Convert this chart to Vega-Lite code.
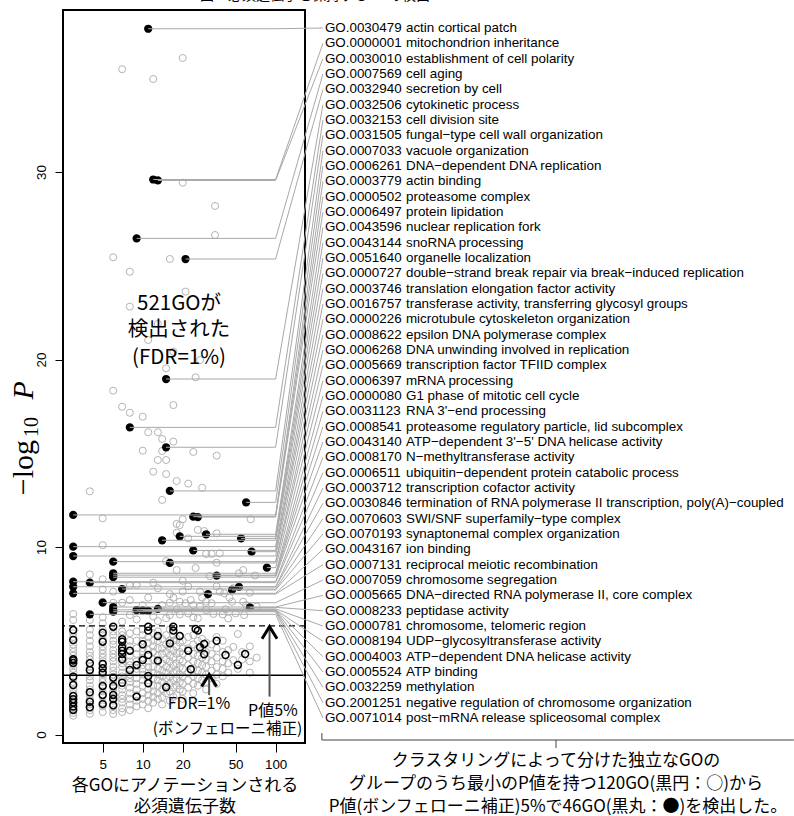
{
"$schema":"https://vega.github.io/schema/vega-lite/v6.json",
"width":242,"height":733,
"autosize":{"type":"none"},
"padding":{"left":63,"top":10,"right":489,"bottom":73},
"config":{"view":{"stroke":"black","strokeWidth":2},"font":"Liberation Sans"},
"data":{"values":[{}]},
"datasets":{
"gray":[
{"n":7,"p":35.48},{"n":12,"p":34.96},{"n":20,"p":36.08},{"n":20,"p":29.43},{"n":35,"p":28.19},{"n":35,"p":26.64},{"n":6,"p":25.45},{"n":16,"p":25.36},{"n":8,"p":24.68},{"n":21,"p":23.62},{"n":8,"p":22.82},{"n":13,"p":21.9},{"n":11,"p":21.04},{"n":17,"p":20.42},{"n":27,"p":19.97},{"n":15,"p":19.53},{"n":25,"p":19.05},{"n":6,"p":18.34},{"n":7,"p":17.48},{"n":8,"p":17.16},{"n":10,"p":16.95},{"n":17,"p":17.57},{"n":11,"p":16.12},{"n":13,"p":16.12},{"n":14,"p":15.76},{"n":17,"p":15.62},{"n":10,"p":15.14},{"n":14,"p":15.12},{"n":24,"p":15.07},{"n":36,"p":14.87},{"n":13,"p":14.64},{"n":15,"p":14.64},{"n":12,"p":14.02},{"n":15,"p":13.89},{"n":18,"p":13.52},{"n":22,"p":13.38},{"n":28,"p":13.16},{"n":4,"p":12.97},{"n":14,"p":12.51},{"n":5,"p":11.53},{"n":20,"p":11.48},{"n":65,"p":11.48},{"n":18,"p":11.23},{"n":19,"p":11.17},{"n":18,"p":10.76},{"n":36,"p":10.73},{"n":26,"p":10.91},{"n":29,"p":10.85},{"n":22,"p":10.46},{"n":5,"p":10.1},{"n":30,"p":9.63},{"n":33,"p":9.63},{"n":38,"p":9.66},{"n":15,"p":9.25},{"n":36,"p":9.16},{"n":4,"p":8.54},{"n":18,"p":8.77},{"n":25,"p":8.88},{"n":53,"p":8.6},{"n":57,"p":8.77},{"n":70,"p":8.48},{"n":5,"p":8.28},{"n":20,"p":8.2},{"n":32,"p":8.45},{"n":8,"p":7.97},{"n":9,"p":7.97},{"n":12,"p":8.1},{"n":5,"p":7.74},{"n":6,"p":7.62},{"n":16,"p":7.49},{"n":20,"p":7.62},{"n":23,"p":7.17},{"n":27,"p":7.62},{"n":38,"p":7.62},{"n":41,"p":7.53},{"n":57,"p":7.08},{"n":64,"p":7.56},{"n":5,"p":7.08},{"n":6,"p":7.03},{"n":7,"p":7.03},{"n":8,"p":7.17},{"n":16,"p":7.03},{"n":19,"p":7.08},{"n":21,"p":7.0},{"n":30,"p":7.08},{"n":47,"p":7.08},{"n":3,"p":6.43},{"n":3,"p":6.11},{"n":4,"p":6.11},{"n":5,"p":6.25},{"n":5,"p":5.93},{"n":7,"p":6.02},{"n":8,"p":6.37},{"n":9,"p":6.14},{"n":13,"p":6.05},{"n":16,"p":6.37},{"n":18,"p":6.68},{"n":22,"p":6.46},{"n":24,"p":6.25},{"n":27,"p":6.82},{"n":30,"p":6.64},{"n":34,"p":6.43},{"n":42,"p":6.68},{"n":44,"p":6.19},{"n":50,"p":6.46},{"n":58,"p":6.37},{"n":72,"p":6.82},{"n":11,"p":7.3},{"n":13,"p":7.8},{"n":14,"p":6.9},{"n":17,"p":7.3},{"n":22,"p":7.9},{"n":24,"p":6.9},{"n":28,"p":7.3},{"n":33,"p":7.0},{"n":36,"p":7.9},{"n":45,"p":7.3},{"n":40,"p":6.4},{"n":26,"p":6.2},{"n":12,"p":6.3},{"n":10,"p":6.9},{"n":19,"p":6.4},{"n":15,"p":6.2},{"n":60,"p":6.9},{"n":48,"p":7.8},
{"n":3,"p":1.0},{"n":3,"p":1.15},{"n":3,"p":1.4},{"n":3,"p":1.6},{"n":3,"p":1.8},{"n":3,"p":2.2},{"n":3,"p":2.4},{"n":3,"p":2.8},{"n":3,"p":3.0},{"n":3,"p":3.3},{"n":3,"p":3.5},{"n":3,"p":3.7},{"n":3,"p":4.2},{"n":3,"p":4.4},{"n":3,"p":4.6},{"n":3,"p":4.8},{"n":3,"p":5.2},{"n":3,"p":5.4},
{"n":4,"p":1.1},{"n":4,"p":1.3},{"n":4,"p":1.6},{"n":4,"p":1.9},{"n":4,"p":2.1},{"n":4,"p":2.4},{"n":4,"p":2.6},{"n":4,"p":2.9},{"n":4,"p":3.1},{"n":4,"p":3.3},{"n":4,"p":3.6},{"n":4,"p":4.0},{"n":4,"p":4.2},{"n":4,"p":4.4},{"n":4,"p":4.7},{"n":4,"p":5.0},{"n":4,"p":5.3},{"n":4,"p":5.6},
{"n":5,"p":1.2},{"n":5,"p":1.5},{"n":5,"p":1.7},{"n":5,"p":2.0},{"n":5,"p":2.3},{"n":5,"p":2.5},{"n":5,"p":2.8},{"n":5,"p":3.0},{"n":5,"p":3.2},{"n":5,"p":3.4},{"n":5,"p":3.9},{"n":5,"p":4.1},{"n":5,"p":4.3},{"n":5,"p":4.5},{"n":5,"p":4.7},{"n":5,"p":5.1},{"n":5,"p":5.3},{"n":5,"p":5.6},
{"n":6,"p":1.1},{"n":6,"p":1.3},{"n":6,"p":1.5},{"n":6,"p":1.8},{"n":6,"p":2.0},{"n":6,"p":2.3},{"n":6,"p":2.5},{"n":6,"p":2.8},{"n":6,"p":3.2},{"n":6,"p":3.4},{"n":6,"p":3.6},{"n":6,"p":3.9},{"n":6,"p":4.1},{"n":6,"p":4.3},{"n":6,"p":4.5},{"n":6,"p":4.8},{"n":6,"p":5.0},{"n":6,"p":5.3},{"n":6,"p":5.5},
{"n":7,"p":1.2},{"n":7,"p":1.4},{"n":7,"p":1.7},{"n":7,"p":1.9},{"n":7,"p":2.1},{"n":7,"p":2.4},{"n":7,"p":2.6},{"n":7,"p":2.9},{"n":7,"p":3.1},{"n":7,"p":3.3},{"n":7,"p":3.6},{"n":7,"p":3.8},{"n":7,"p":4.1},{"n":7,"p":5.3},{"n":7,"p":5.5},
{"n":8,"p":1.3},{"n":8,"p":1.6},{"n":8,"p":1.9},{"n":8,"p":2.2},{"n":8,"p":2.5},{"n":8,"p":2.8},{"n":8,"p":3.0},{"n":8,"p":3.2},{"n":8,"p":3.7},{"n":8,"p":3.9},{"n":8,"p":4.2},{"n":8,"p":4.7},{"n":8,"p":5.0},{"n":8,"p":5.4},
{"n":9,"p":1.5},{"n":9,"p":1.8},{"n":9,"p":2.1},{"n":9,"p":2.4},{"n":9,"p":2.7},{"n":9,"p":3.0},{"n":9,"p":3.3},{"n":9,"p":3.5},{"n":9,"p":3.9},{"n":9,"p":4.3},{"n":9,"p":4.6},{"n":9,"p":5.0},{"n":9,"p":5.5},
{"n":10,"p":1.6},{"n":10,"p":1.9},{"n":10,"p":2.2},{"n":10,"p":2.6},{"n":10,"p":2.9},{"n":10,"p":3.2},{"n":10,"p":3.5},{"n":10,"p":3.7},{"n":10,"p":4.1},{"n":10,"p":4.4},{"n":10,"p":4.6},{"n":10,"p":5.0},{"n":10,"p":5.3},{"n":10,"p":5.6},
{"n":11,"p":1.4},{"n":11,"p":1.8},{"n":11,"p":2.1},{"n":11,"p":2.4},{"n":11,"p":2.9},{"n":11,"p":3.3},{"n":11,"p":3.6},{"n":11,"p":3.9},{"n":11,"p":4.5},{"n":11,"p":4.9},{"n":11,"p":5.2},
{"n":12,"p":1.7},{"n":12,"p":2.0},{"n":12,"p":2.3},{"n":12,"p":2.6},{"n":12,"p":3.0},{"n":12,"p":3.3},{"n":12,"p":3.6},{"n":12,"p":4.0},{"n":12,"p":4.4},{"n":12,"p":4.7},{"n":12,"p":5.0},{"n":12,"p":5.4},
{"n":13,"p":1.9},{"n":13,"p":2.2},{"n":13,"p":2.6},{"n":13,"p":2.9},{"n":13,"p":3.2},{"n":13,"p":3.5},{"n":13,"p":3.9},{"n":13,"p":4.2},{"n":13,"p":4.6},{"n":13,"p":5.0},{"n":13,"p":5.5},
{"n":14,"p":1.6},{"n":14,"p":2.0},{"n":14,"p":2.4},{"n":14,"p":2.8},{"n":14,"p":3.1},{"n":14,"p":3.4},{"n":14,"p":3.8},{"n":14,"p":4.3},{"n":14,"p":4.6},{"n":14,"p":5.1},
{"n":15,"p":2.2},{"n":15,"p":2.6},{"n":15,"p":3.0},{"n":15,"p":3.3},{"n":15,"p":3.6},{"n":15,"p":4.0},{"n":15,"p":4.4},{"n":15,"p":4.8},{"n":15,"p":5.3},
{"n":16,"p":1.8},{"n":16,"p":2.3},{"n":16,"p":2.7},{"n":16,"p":3.1},{"n":16,"p":3.5},{"n":16,"p":3.9},{"n":16,"p":4.2},{"n":16,"p":4.6},{"n":16,"p":5.0},{"n":16,"p":5.6},
{"n":17,"p":2.0},{"n":17,"p":2.5},{"n":17,"p":2.9},{"n":17,"p":3.3},{"n":17,"p":3.7},{"n":17,"p":4.1},{"n":17,"p":4.5},{"n":17,"p":5.0},{"n":17,"p":5.3},
{"n":18,"p":2.1},{"n":18,"p":2.6},{"n":18,"p":3.0},{"n":18,"p":3.4},{"n":18,"p":3.8},{"n":18,"p":4.3},{"n":18,"p":4.7},{"n":18,"p":5.1},
{"n":19,"p":2.4},{"n":19,"p":2.8},{"n":19,"p":3.2},{"n":19,"p":3.6},{"n":19,"p":4.0},{"n":19,"p":4.4},{"n":19,"p":4.9},
{"n":20,"p":1.9},{"n":20,"p":2.3},{"n":20,"p":2.7},{"n":20,"p":3.1},{"n":20,"p":3.5},{"n":20,"p":3.9},{"n":20,"p":4.3},{"n":20,"p":4.6},{"n":20,"p":5.0},
{"n":22,"p":2.5},{"n":22,"p":2.9},{"n":22,"p":3.3},{"n":22,"p":3.7},{"n":22,"p":4.1},{"n":22,"p":4.6},{"n":22,"p":5.2},
{"n":24,"p":2.2},{"n":24,"p":2.7},{"n":24,"p":3.1},{"n":24,"p":3.5},{"n":24,"p":3.9},{"n":24,"p":4.3},{"n":24,"p":4.8},{"n":24,"p":5.3},
{"n":26,"p":2.6},{"n":26,"p":3.0},{"n":26,"p":3.4},{"n":26,"p":3.8},{"n":26,"p":4.2},{"n":26,"p":4.6},{"n":26,"p":5.0},
{"n":28,"p":2.9},{"n":28,"p":3.3},{"n":28,"p":3.7},{"n":28,"p":4.1},{"n":28,"p":4.5},{"n":28,"p":5.1},
{"n":30,"p":2.4},{"n":30,"p":2.8},{"n":30,"p":3.2},{"n":30,"p":3.6},{"n":30,"p":4.0},{"n":30,"p":4.4},{"n":30,"p":4.9},
{"n":33,"p":3.0},{"n":33,"p":3.4},{"n":33,"p":3.9},{"n":33,"p":4.3},{"n":33,"p":4.8},
{"n":36,"p":2.7},{"n":36,"p":3.2},{"n":36,"p":3.6},{"n":36,"p":4.1},{"n":36,"p":4.6},{"n":36,"p":5.2},
{"n":40,"p":3.1},{"n":40,"p":3.5},{"n":40,"p":3.9},{"n":40,"p":4.4},{"n":40,"p":5.0},
{"n":44,"p":3.3},{"n":44,"p":3.8},{"n":44,"p":4.5},{"n":48,"p":3.97},{"n":48,"p":4.67},{"n":52,"p":3.5},{"n":52,"p":5.36},{"n":56,"p":4.0},{"n":56,"p":4.4},{"n":64,"p":3.3},{"n":64,"p":3.9},{"n":64,"p":4.7},{"n":72,"p":4.1}
],
"open":[
{"n":3,"p":5.57},{"n":3,"p":5.04},{"n":3,"p":4.02},{"n":3,"p":3.95},{"n":3,"p":3.81},{"n":3,"p":3.08},{"n":3,"p":2.64},{"n":3,"p":2.05},{"n":3,"p":1.88},{"n":3,"p":1.7},{"n":3,"p":1.49},{"n":3,"p":1.31},
{"n":4,"p":3.8},{"n":4,"p":3.44},{"n":4,"p":2.25},{"n":4,"p":1.75},{"n":4,"p":1.45},
{"n":5,"p":5.43},{"n":5,"p":4.95},{"n":5,"p":3.76},{"n":5,"p":3.53},{"n":5,"p":3.3},{"n":5,"p":2.59},{"n":5,"p":2.11},{"n":5,"p":1.62},
{"n":6,"p":5.75},{"n":6,"p":3.03},{"n":6,"p":2.59},{"n":6,"p":2.11},{"n":6,"p":1.56},{"n":6,"p":1.9},
{"n":7,"p":5.08},{"n":7,"p":4.95},{"n":7,"p":4.65},{"n":7,"p":4.47},{"n":7,"p":4.29},{"n":7,"p":4.01},{"n":7,"p":2.76},
{"n":8,"p":4.47},{"n":8,"p":3.44},{"n":9,"p":3.71},{"n":9,"p":2.02},{"n":10,"p":4.81},{"n":10,"p":3.97},
{"n":11,"p":5.75},{"n":11,"p":5.54},{"n":11,"p":4.24},{"n":11,"p":3.12},{"n":11,"p":2.73},
{"n":13,"p":5.25},{"n":13,"p":3.94},{"n":15,"p":2.52},{"n":16,"p":4.86},{"n":17,"p":5.75},{"n":17,"p":5.54},{"n":19,"p":5.25},{"n":22,"p":4.47},{"n":23,"p":3.48},{"n":25,"p":5.63},{"n":26,"p":5.54},{"n":27,"p":4.65},{"n":29,"p":4.83},{"n":29,"p":4.28},{"n":36,"p":5.0},{"n":42,"p":4.24},{"n":52,"p":3.71},{"n":59,"p":4.29}
],
"sig":[
{"n":11,"p":37.64,"go":"GO.0030479","term":"actin cortical patch"},
{"n":12,"p":29.6,"go":"GO.0000001","term":"mitochondrion inheritance"},
{"n":13,"p":29.55,"go":"GO.0030010","term":"establishment of cell polarity"},
{"n":9,"p":26.46,"go":"GO.0007569","term":"cell aging"},
{"n":21,"p":25.36,"go":"GO.0032940","term":"secretion by cell"},
{"n":15,"p":18.96,"go":"GO.0032506","term":"cytokinetic process"},
{"n":8,"p":16.38,"go":"GO.0032153","term":"cell division site"},
{"n":15,"p":15.32,"go":"GO.0031505","term":"fungal−type cell wall organization"},
{"n":16,"p":12.99,"go":"GO.0007033","term":"vacuole organization"},
{"n":60,"p":12.38,"go":"GO.0006261","term":"DNA−dependent DNA replication"},
{"n":3,"p":11.71,"go":"GO.0003779","term":"actin binding"},
{"n":24,"p":11.62,"go":"GO.0000502","term":"proteasome complex"},
{"n":26,"p":11.6,"go":"GO.0006497","term":"protein lipidation"},
{"n":30,"p":10.68,"go":"GO.0043596","term":"nuclear replication fork"},
{"n":19,"p":10.57,"go":"GO.0043144","term":"snoRNA processing"},
{"n":55,"p":10.46,"go":"GO.0051640","term":"organelle localization"},
{"n":14,"p":10.36,"go":"GO.0000727","term":"double−strand break repair via break−induced replication"},
{"n":3,"p":10.02,"go":"GO.0003746","term":"translation elongation factor activity"},
{"n":24,"p":9.82,"go":"GO.0016757","term":"transferase activity, transferring glycosyl groups"},
{"n":66,"p":9.75,"go":"GO.0000226","term":"microtubule cytoskeleton organization"},
{"n":3,"p":9.52,"go":"GO.0008622","term":"epsilon DNA polymerase complex"},
{"n":6,"p":9.22,"go":"GO.0006268","term":"DNA unwinding involved in replication"},
{"n":16,"p":9.15,"go":"GO.0005669","term":"transcription factor TFIID complex"},
{"n":86,"p":8.9,"go":"GO.0006397","term":"mRNA processing"},
{"n":6,"p":8.6,"go":"GO.0000080","term":"G1 phase of mitotic cell cycle"},
{"n":6,"p":8.5,"go":"GO.0031123","term":"RNA 3'−end processing"},
{"n":36,"p":8.47,"go":"GO.0008541","term":"proteasome regulatory particle, lid subcomplex"},
{"n":6,"p":8.39,"go":"GO.0043140","term":"ATP−dependent 3'−5' DNA helicase activity"},
{"n":3,"p":8.15,"go":"GO.0008170","term":"N−methyltransferase activity"},
{"n":4,"p":8.1,"go":"GO.0006511","term":"ubiquitin−dependent protein catabolic process"},
{"n":3,"p":7.88,"go":"GO.0003712","term":"transcription cofactor activity"},
{"n":53,"p":7.87,"go":"GO.0030846","term":"termination of RNA polymerase II transcription, poly(A)−coupled"},
{"n":7,"p":7.76,"go":"GO.0070603","term":"SWI/SNF superfamily−type complex"},
{"n":47,"p":7.71,"go":"GO.0070193","term":"synaptonemal complex organization"},
{"n":3,"p":7.53,"go":"GO.0043167","term":"ion binding"},
{"n":31,"p":7.49,"go":"GO.0007131","term":"reciprocal meiotic recombination"},
{"n":5,"p":7.03,"go":"GO.0007059","term":"chromosome segregation"},
{"n":6,"p":6.8,"go":"GO.0005665","term":"DNA−directed RNA polymerase II, core complex"},
{"n":64,"p":6.78,"go":"GO.0008233","term":"peptidase activity"},
{"n":13,"p":6.7,"go":"GO.0000781","term":"chromosome, telomeric region"},
{"n":6,"p":6.65,"go":"GO.0008194","term":"UDP−glycosyltransferase activity"},
{"n":9,"p":6.64,"go":"GO.0004003","term":"ATP−dependent DNA helicase activity"},
{"n":10,"p":6.62,"go":"GO.0005524","term":"ATP binding"},
{"n":11,"p":6.6,"go":"GO.0032259","term":"methylation"},
{"n":6,"p":6.55,"go":"GO.2001251","term":"negative regulation of chromosome organization"},
{"n":4,"p":6.41,"go":"GO.0071014","term":"post−mRNA release spliceosomal complex"}
]
},
"layer":[
{"data":{"name":"gray"},
 "mark":{"type":"point","shape":"circle","filled":false,"stroke":"#b4b4b4","strokeWidth":1,"size":50,"opacity":1},
 "encoding":{
  "x":{"field":"n","type":"quantitative","scale":{"type":"log","domain":[2.513,166.4],"nice":false,"zero":false},
   "axis":{"title":null,"values":[5,10,20,50,100],"format":"d","domain":false,"grid":false,"ticks":true,"tickSize":9,"tickColor":"black","tickWidth":1,"labels":true,"labelFontSize":13.4,"labelFont":"Liberation Sans","labelColor":"black","labelPadding":5,"labelFlush":false,"labelOverlap":false}},
  "y":{"field":"p","type":"quantitative","scale":{"domain":[-0.453,38.64],"nice":false,"zero":false},
   "axis":{"title":null,"values":[0,10,20,30],"domain":false,"grid":false,"ticks":true,"tickSize":8,"tickColor":"black","tickWidth":1,"labels":true,"labelAngle":270,"labelAlign":"center","labelBaseline":"alphabetic","labelFontSize":13.4,"labelFont":"Liberation Sans","labelColor":"black","labelPadding":10,"labelFlush":false,"labelOverlap":false}}
 }},
{"mark":{"type":"rule","color":"black","strokeWidth":1.3,"strokeDash":[6,4]},"encoding":{"y":{"datum":5.79,"type":"quantitative"}}},
{"mark":{"type":"rule","color":"black","strokeWidth":1.3},"encoding":{"y":{"datum":3.16,"type":"quantitative"}}},
{"data":{"name":"open"},
 "mark":{"type":"point","shape":"circle","filled":false,"stroke":"black","strokeWidth":1.5,"size":48,"opacity":1},
 "encoding":{"x":{"field":"n","type":"quantitative"},"y":{"field":"p","type":"quantitative"}}},
{"data":{"name":"sig"},
 "transform":[{"window":[{"op":"row_number","as":"rn"}]},{"calculate":"37.68 - (datum.rn - 1) * 0.8178","as":"ly"}],
 "layer":[
  {"mark":{"type":"point","shape":"circle","filled":true,"color":"black","size":68,"opacity":1},
   "encoding":{"x":{"field":"n","type":"quantitative"},"y":{"field":"p","type":"quantitative"}}},
  {"mark":{"type":"rule","color":"#a8a8a8","strokeWidth":1},
   "encoding":{"x":{"field":"n","type":"quantitative"},"x2":{"datum":100},"y":{"field":"p","type":"quantitative"}}},
  {"mark":{"type":"rule","color":"#a8a8a8","strokeWidth":1},
   "encoding":{"x":{"datum":100,"type":"quantitative"},"x2":{"datum":227},"y":{"field":"p","type":"quantitative"},"y2":{"field":"ly"}}},
  {"mark":{"type":"text","align":"left","baseline":"middle","font":"Liberation Sans","fontSize":13.4,"color":"black"},
   "encoding":{"x":{"datum":235,"type":"quantitative"},"y":{"field":"ly","type":"quantitative"},"text":{"field":"go"}}},
  {"mark":{"type":"text","align":"left","baseline":"middle","font":"Liberation Sans","fontSize":13.4,"color":"black"},
   "encoding":{"x":{"datum":957,"type":"quantitative"},"y":{"field":"ly","type":"quantitative"},"text":{"field":"term"}}}
 ]},
{"mark":{"type":"rule","color":"#555555","strokeWidth":2},"encoding":{"x":{"datum":31.6,"type":"quantitative"},"y":{"datum":2.1,"type":"quantitative"},"y2":{"datum":3.1}}},
{"mark":{"type":"point","shape":"M -1 1.6 L 0 0 L 1 1.6","filled":false,"stroke":"black","strokeWidth":3,"size":225,"opacity":1},"encoding":{"x":{"datum":31.6,"type":"quantitative"},"y":{"datum":3.2,"type":"quantitative"}}},
{"mark":{"type":"rule","color":"#555555","strokeWidth":2},"encoding":{"x":{"datum":90,"type":"quantitative"},"y":{"datum":2.02,"type":"quantitative"},"y2":{"datum":5.65}}},
{"mark":{"type":"point","shape":"M -1 1.6 L 0 0 L 1 1.6","filled":false,"stroke":"black","strokeWidth":3,"size":225,"opacity":1},"encoding":{"x":{"datum":90,"type":"quantitative"},"y":{"datum":5.75,"type":"quantitative"}}},
{"mark":{"type":"text","text":"FDR=1%","font":"Noto Sans CJK JP","fontSize":16,"align":"center","baseline":"middle","color":"black"},"encoding":{"x":{"datum":26.5,"type":"quantitative"},"y":{"datum":1.62,"type":"quantitative"}}},
{"mark":{"type":"text","text":"P値5%","font":"Noto Sans CJK JP","fontSize":16,"align":"center","baseline":"middle","color":"black"},"encoding":{"x":{"datum":95.5,"type":"quantitative"},"y":{"datum":1.26,"type":"quantitative"}}},
{"mark":{"type":"text","text":"(ボンフェローニ補正)","font":"Noto Sans CJK JP","fontSize":15.5,"align":"center","baseline":"middle","color":"black"},"encoding":{"x":{"datum":43.4,"type":"quantitative"},"y":{"datum":0.3,"type":"quantitative"}}},
{"mark":{"type":"text","text":"521GOが","font":"Noto Sans CJK JP","fontSize":20.5,"align":"center","baseline":"middle","color":"black"},"encoding":{"x":{"datum":18.75,"type":"quantitative"},"y":{"datum":22.95,"type":"quantitative"}}},
{"mark":{"type":"text","text":"検出された","font":"Noto Sans CJK JP","fontSize":20.5,"align":"center","baseline":"middle","color":"black"},"encoding":{"x":{"datum":18.75,"type":"quantitative"},"y":{"datum":21.57,"type":"quantitative"}}},
{"mark":{"type":"text","text":"(FDR=1%)","font":"Noto Sans CJK JP","fontSize":20.5,"align":"center","baseline":"middle","color":"black"},"encoding":{"x":{"datum":18.75,"type":"quantitative"},"y":{"datum":20.07,"type":"quantitative"}}},
{"mark":{"type":"text","text":"各GOにアノテーションされる","font":"Noto Sans CJK JP","fontSize":17,"align":"center","baseline":"middle","color":"black"},"encoding":{"x":{"datum":20.8,"type":"quantitative"},"y":{"datum":-2.72,"type":"quantitative"}}},
{"mark":{"type":"text","text":"必須遺伝子数","font":"Noto Sans CJK JP","fontSize":17,"align":"center","baseline":"middle","color":"black"},"encoding":{"x":{"datum":20.8,"type":"quantitative"},"y":{"datum":-3.86,"type":"quantitative"}}},
{"mark":{"type":"text","text":"クラスタリングによって分けた独立なGOの","font":"Noto Sans CJK JP","fontSize":17,"align":"center","baseline":"middle","color":"black"},"encoding":{"x":{"datum":12882,"type":"quantitative"},"y":{"datum":-1.41,"type":"quantitative"}}},
{"mark":{"type":"text","text":"グループのうち最小のP値を持つ120GO(黒円：○)から","font":"Noto Sans CJK JP","fontSize":17,"align":"center","baseline":"middle","color":"black"},"encoding":{"x":{"datum":12882,"type":"quantitative"},"y":{"datum":-2.66,"type":"quantitative"}}},
{"mark":{"type":"text","text":"P値(ボンフェローニ補正)5%で46GO(黒丸：●)を検出した。","font":"Noto Sans CJK JP","fontSize":17,"align":"center","baseline":"middle","color":"black"},"encoding":{"x":{"datum":13340,"type":"quantitative"},"y":{"datum":-3.87,"type":"quantitative"}}},
{"mark":{"type":"rule","color":"#444444","strokeWidth":1},"encoding":{"x":{"datum":223,"type":"quantitative"},"x2":{"datum":794000},"y":{"datum":-0.293,"type":"quantitative"}}},
{"mark":{"type":"rule","color":"#444444","strokeWidth":1},"encoding":{"x":{"datum":223,"type":"quantitative"},"y":{"datum":-0.293,"type":"quantitative"},"y2":{"datum":0.08}}},
{"mark":{"type":"rule","color":"#444444","strokeWidth":1},"encoding":{"x":{"datum":12882,"type":"quantitative"},"y":{"datum":-0.293,"type":"quantitative"},"y2":{"datum":-0.72}}},
{"mark":{"type":"text","text":"図：必須遺伝子を保持するGOの検出","font":"Noto Sans CJK JP","fontSize":14,"align":"center","baseline":"middle","color":"black"},"encoding":{"x":{"datum":198,"type":"quantitative"},"y":{"datum":39.39,"type":"quantitative"}}},
{"mark":{"type":"text","text":"−log","font":"Liberation Serif","fontSize":30,"angle":270,"align":"center","baseline":"alphabetic","color":"black"},"encoding":{"x":{"datum":1.495,"type":"quantitative"},"y":{"datum":14.24,"type":"quantitative"}}},
{"mark":{"type":"text","text":"10","font":"Liberation Serif","fontSize":20,"angle":270,"align":"center","baseline":"alphabetic","color":"black"},"encoding":{"x":{"datum":1.64,"type":"quantitative"},"y":{"datum":16.4,"type":"quantitative"}}},
{"mark":{"type":"text","text":"P","font":"Liberation Serif","fontSize":30,"fontStyle":"italic","angle":270,"align":"center","baseline":"alphabetic","color":"black"},"encoding":{"x":{"datum":1.495,"type":"quantitative"},"y":{"datum":18.35,"type":"quantitative"}}}
]
}
